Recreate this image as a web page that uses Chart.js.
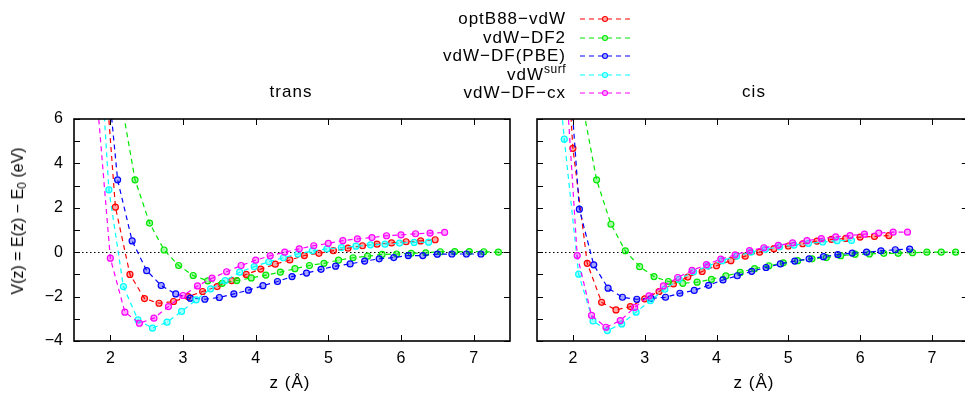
<!DOCTYPE html>
<html>
<head>
<meta charset="utf-8">
<script src="https://cdn.jsdelivr.net/npm/chart.js@4.4.0/dist/chart.umd.min.js"></script>
<style>
  html, body { margin: 0; padding: 0; background: #fff; overflow: hidden; }
  body { width: 965px; height: 398px; position: relative; font-family: "Liberation Sans", Arial, sans-serif; color: #000; }
  canvas { position: absolute; top: 0; }
  #transChart { left: 0; }
  #cisChart { left: 527px; }
  .txt { position: absolute; font-size: 17px; letter-spacing: 1px; white-space: nowrap; line-height: 18px; }
  .center { transform: translate(-50%, -50%); }
  .ytitle { position: absolute; font-size: 16px; white-space: nowrap; transform: translate(-50%, -50%) rotate(-90deg); }
  .ytitle sub { font-size: 12px; vertical-align: -3px; }
  .legend { position: absolute; left: 380px; top: 10px; }
  .row { position: absolute; left: 0; width: 250px; height: 18px; }
  .row .name { position: absolute; right: 64px; top: 0; }
  .row svg { position: absolute; right: 0; top: 4px; }
  .sup { position: relative; top: -7px; font-size: 12px; letter-spacing: 0.5px; }
</style>
</head>
<body>
<canvas id="transChart" width="520" height="398"></canvas>
<canvas id="cisChart" width="446" height="398"></canvas>

<div class="txt center" style="left:291px; top:92px;">trans</div>
<div class="txt center" style="left:754px; top:92px;">cis</div>
<div class="txt center" style="left:290px; top:383px;">z (Å)</div>
<div class="txt center" style="left:754px; top:383px;">z (Å)</div>
<div class="ytitle" style="left:19px; top:221px;">V(z) = E(z) − E<sub>0</sub> (eV)</div>
<div class="legend" id="legend"></div>

<script>
// ---- data ----
const seriesNames = ['optB88\u2212vdW', 'vdW\u2212DF2', 'vdW\u2212DF(PBE)', 'vdW', 'vdW\u2212DF\u2212cx'];
const seriesSup = ['', '', '', 'surf', ''];
const seriesColors = ['#ff0000', '#00e800', '#0000ff', '#00ffff', '#ff00ff'];

const xTickVals = [2, 3, 4, 5, 6, 7];
const yTickVals = [-4, -2, 0, 2, 4, 6];
const yMinorVals = [-4, -3, -2, -1, 0, 1, 2, 3, 4, 5, 6];

// trans
const transOptB88Z = [1.87, 2.07, 2.27, 2.47, 2.67, 2.87, 3.07, 3.27, 3.47, 3.67, 3.87, 4.07, 4.27, 4.47, 4.67, 4.87, 5.07, 5.27, 5.47, 5.67, 5.87, 6.07, 6.27, 6.47];
const transOptB88V = [10.8, 2.03, -1.0, -2.09, -2.30, -2.22, -2.0, -1.77, -1.55, -1.28, -1.0, -0.76, -0.54, -0.35, -0.15, -0.05, 0.07, 0.18, 0.29, 0.36, 0.42, 0.47, 0.51, 0.56];
const transDF2Z = [2.14, 2.34, 2.54, 2.74, 2.94, 3.14, 3.34, 3.54, 3.74, 3.94, 4.14, 4.34, 4.54, 4.74, 4.94, 5.14, 5.34, 5.54, 5.74, 5.94, 6.14, 6.34, 6.54, 6.74, 6.94, 7.14, 7.34];
const transDF2V = [7.0, 3.26, 1.31, 0.1, -0.6, -1.05, -1.29, -1.40, -1.28, -1.16, -1.03, -0.9, -0.74, -0.6, -0.5, -0.36, -0.25, -0.18, -0.1, -0.08, -0.05, -0.03, 0.02, 0.03, 0.03, 0.02, 0.0];
const transPBEZ = [1.90, 2.10, 2.30, 2.50, 2.70, 2.90, 3.10, 3.30, 3.50, 3.70, 3.90, 4.10, 4.30, 4.50, 4.70, 4.90, 5.10, 5.30, 5.50, 5.70, 5.90, 6.10, 6.30, 6.50, 6.70, 6.90, 7.10];
const transPBEV = [10.1, 3.26, 0.51, -0.83, -1.5, -1.88, -2.07, -2.12, -2.04, -1.88, -1.71, -1.51, -1.32, -1.1, -0.94, -0.77, -0.63, -0.53, -0.4, -0.3, -0.24, -0.15, -0.15, -0.09, -0.08, -0.08, -0.08];
const transSurfZ = [1.78, 1.98, 2.18, 2.38, 2.58, 2.78, 2.98, 3.18, 3.38, 3.58, 3.78, 3.98, 4.18, 4.38, 4.58, 4.78, 4.98, 5.18, 5.38, 5.58, 5.78, 5.98, 6.18, 6.38];
const transSurfV = [13.4, 2.81, -1.55, -3.05, -3.42, -3.15, -2.67, -2.15, -1.65, -1.28, -0.9, -0.65, -0.43, -0.25, -0.08, 0.06, 0.15, 0.21, 0.27, 0.33, 0.36, 0.41, 0.44, 0.45];
const transCxZ = [1.80, 2.00, 2.20, 2.40, 2.60, 2.80, 3.00, 3.20, 3.40, 3.60, 3.80, 4.00, 4.20, 4.40, 4.60, 4.80, 5.00, 5.20, 5.40, 5.60, 5.80, 6.00, 6.20, 6.40, 6.60];
const transCxV = [7.6, -0.27, -2.7, -3.2, -2.97, -2.45, -1.95, -1.52, -1.17, -0.88, -0.6, -0.36, -0.16, 0.0, 0.15, 0.29, 0.4, 0.52, 0.6, 0.66, 0.74, 0.78, 0.83, 0.86, 0.89];

// cis
const cisOptB88Z = [1.80, 2.00, 2.20, 2.40, 2.60, 2.80, 3.00, 3.20, 3.40, 3.60, 3.80, 4.00, 4.20, 4.40, 4.60, 4.80, 5.00, 5.20, 5.40, 5.60, 5.80, 6.00, 6.20, 6.40];
const cisOptB88V = [15, 4.68, -0.5, -2.26, -2.6, -2.45, -2.1, -1.77, -1.43, -1.12, -0.87, -0.61, -0.38, -0.18, 0.0, 0.16, 0.28, 0.38, 0.5, 0.58, 0.62, 0.68, 0.71, 0.75];
const cisDF2Z = [2.13, 2.33, 2.53, 2.73, 2.93, 3.13, 3.33, 3.53, 3.73, 3.93, 4.13, 4.33, 4.53, 4.73, 4.93, 5.13, 5.33, 5.53, 5.73, 5.93, 6.13, 6.33, 6.53, 6.73, 6.93, 7.13, 7.33];
const cisDF2V = [6.7, 3.26, 1.26, 0.06, -0.65, -1.1, -1.32, -1.40, -1.35, -1.22, -1.07, -0.91, -0.74, -0.61, -0.48, -0.38, -0.3, -0.24, -0.16, -0.09, -0.08, -0.05, -0.05, -0.02, 0.0, 0.0, 0.0];
const cisPBEZ = [1.89, 2.09, 2.29, 2.49, 2.69, 2.89, 3.09, 3.29, 3.49, 3.69, 3.89, 4.09, 4.29, 4.49, 4.69, 4.89, 5.09, 5.29, 5.49, 5.69, 5.89, 6.09, 6.29, 6.49, 6.69];
const cisPBEV = [11, 1.94, -0.57, -1.62, -2.03, -2.12, -2.08, -2.03, -1.85, -1.72, -1.49, -1.25, -1.06, -0.86, -0.69, -0.53, -0.4, -0.3, -0.2, -0.11, -0.04, 0.0, 0.06, 0.11, 0.14];
const cisSurfZ = [1.68, 1.88, 2.08, 2.28, 2.48, 2.68, 2.88, 3.08, 3.28, 3.48, 3.68, 3.88, 4.08, 4.28, 4.48, 4.68, 4.88, 5.08, 5.28, 5.48, 5.68, 5.88];
const cisSurfV = [12, 5.09, -0.99, -3.1, -3.53, -3.23, -2.7, -2.18, -1.67, -1.22, -0.88, -0.62, -0.38, -0.18, 0.0, 0.13, 0.25, 0.32, 0.4, 0.46, 0.52, 0.53];
const cisCxZ = [1.86, 2.06, 2.26, 2.46, 2.66, 2.86, 3.06, 3.26, 3.46, 3.66, 3.86, 4.06, 4.26, 4.46, 4.66, 4.86, 5.06, 5.26, 5.46, 5.66, 5.86, 6.06, 6.26, 6.46, 6.66];
const cisCxV = [10, -0.15, -2.85, -3.38, -3.08, -2.49, -1.97, -1.52, -1.14, -0.82, -0.56, -0.31, -0.12, 0.07, 0.2, 0.31, 0.42, 0.52, 0.61, 0.69, 0.75, 0.81, 0.86, 0.9, 0.9];

const transSeries = [[transOptB88Z, transOptB88V], [transDF2Z, transDF2V], [transPBEZ, transPBEV], [transSurfZ, transSurfV], [transCxZ, transCxV]];
const cisSeries = [[cisOptB88Z, cisOptB88V], [cisDF2Z, cisDF2V], [cisPBEZ, cisPBEV], [cisSurfZ, cisSurfV], [cisCxZ, cisCxV]];

Chart.defaults.font.family = '"Liberation Sans", Arial, sans-serif';
Chart.defaults.font.size = 16;
Chart.defaults.color = '#000';

function tint(hex) {
    const r = parseInt(hex.slice(1, 3), 16), g = parseInt(hex.slice(3, 5), 16), b = parseInt(hex.slice(5, 7), 16);
    return 'rgba(' + r + ',' + g + ',' + b + ',0.35)';
}

function buildDatasets(series) {
    return series.map(([zs, vs], i) => ({
        label: seriesNames[i] + seriesSup[i],
        data: zs.map((z, k) => ({ x: z, y: vs[k] })),
        showLine: true,
        borderColor: seriesColors[i],
        borderWidth: 1.2,
        borderDash: [5, 4],
        pointRadius: 3,
        pointBorderWidth: 1.2,
        pointBorderColor: seriesColors[i],
        pointBackgroundColor: tint(seriesColors[i]),
        order: 4 - i
    }));
}

// gnuplot-like frame: border, inward ticks, dotted zero line
const framePlugin = {
    id: 'frame',
    beforeDatasetsDraw(chart) {
        const { ctx, chartArea: a, scales: { y } } = chart;
        const y0 = Math.round(y.getPixelForValue(0)) + 0.5;
        ctx.save();
        ctx.strokeStyle = '#000';
        ctx.lineWidth = 1;
        ctx.setLineDash([1.5, 2.5]);
        ctx.beginPath();
        ctx.moveTo(a.left, y0);
        ctx.lineTo(a.right, y0);
        ctx.stroke();
        ctx.restore();
    },
    afterDraw(chart) {
        const { ctx, chartArea: a, scales: { x, y } } = chart;
        const len = 6;
        ctx.save();
        ctx.strokeStyle = '#000';
        ctx.lineWidth = 1;
        ctx.beginPath();
        xTickVals.forEach(v => {
            const px = Math.round(x.getPixelForValue(v)) + 0.5;
            ctx.moveTo(px, a.bottom); ctx.lineTo(px, a.bottom - len);
            ctx.moveTo(px, a.top); ctx.lineTo(px, a.top + len);
        });
        yMinorVals.forEach(v => {
            const py = Math.round(y.getPixelForValue(v)) + 0.5;
            ctx.moveTo(a.left, py); ctx.lineTo(a.left + len, py);
        });
        yTickVals.forEach(v => {
            const py = Math.round(y.getPixelForValue(v)) + 0.5;
            ctx.moveTo(a.right, py); ctx.lineTo(a.right - len, py);
        });
        ctx.stroke();
        ctx.lineWidth = 1.6;
        ctx.strokeRect(a.left, a.top, a.right - a.left, a.bottom - a.top);
        ctx.restore();
    }
};

function makeChart(id, series, showYLabels) {
    const ctx = document.getElementById(id).getContext('2d');
    return new Chart(ctx, {
        type: 'scatter',
        data: { datasets: buildDatasets(series) },
        options: {
            responsive: false,
            animation: false,
            events: [],
            layout: { padding: { top: 119, right: showYLabels ? 10 : 0, left: showYLabels ? 0 : 10, bottom: 0 } },
            plugins: { legend: { display: false }, tooltip: { enabled: false } },
            scales: {
                x: {
                    type: 'linear',
                    min: 1.5,
                    max: 7.5,
                    afterBuildTicks: s => { s.ticks = xTickVals.map(v => ({ value: v })); },
                    afterFit: s => { s.height = 57; },
                    grid: { display: false, drawTicks: false },
                    border: { display: false },
                    ticks: { padding: 8, maxRotation: 0, autoSkip: false }
                },
                y: {
                    type: 'linear',
                    display: showYLabels,
                    min: -4,
                    max: 6,
                    afterBuildTicks: s => { s.ticks = yTickVals.map(v => ({ value: v })); },
                    afterFit: s => { s.width = showYLabels ? 74 : 0; },
                    grid: { display: false, drawTicks: false },
                    border: { display: false },
                    ticks: { padding: 11, callback: v => String(v).replace('-', '\u2212') }
                }
            }
        },
        plugins: [framePlugin]
    });
}

makeChart('transChart', transSeries, true);
makeChart('cisChart', cisSeries, false);

// legend (top centre)
const legend = document.getElementById('legend');
seriesNames.forEach((name, i) => {
    const row = document.createElement('div');
    row.className = 'row';
    row.style.top = (i * 18.6) + 'px';
    const c = seriesColors[i];
    row.innerHTML =
        '<span class="txt name">' + name + (seriesSup[i] ? '<span class="sup">' + seriesSup[i] + '</span>' : '') + '</span>' +
        '<svg width="50" height="10"><line x1="0" y1="5" x2="50" y2="5" stroke="' + c + '" stroke-width="1.2" stroke-dasharray="5,4"/>' +
        '<circle cx="25" cy="5" r="2.5" fill="' + tint(c) + '" stroke="' + c + '" stroke-width="1.1"/></svg>';
    legend.appendChild(row);
});
</script>
</body>
</html>
